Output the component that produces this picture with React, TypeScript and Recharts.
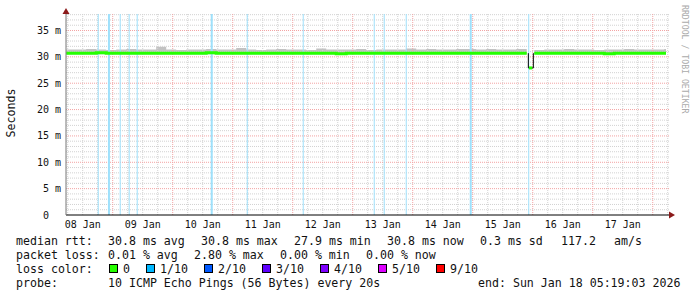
import { ComposedChart, Line, Area, XAxis, YAxis, ReferenceLine } from 'recharts'

// hours since 08 Jan 00:00, end = 18 Jan 05:19
const hours = [
  5.4, 9.4, 13.4, 17.4, 21.4, 25.4, 29.4, 33.4, 37.4, 41.4,
  45.4, 49.4, 53.4, 57.4, 61.4, 65.4, 69.4, 73.4, 77.4, 81.4,
  85.4, 89.4, 93.4, 97.4, 101.4, 105.4, 109.4, 113.4, 117.4, 121.4,
  125.4, 129.4, 133.4, 137.4, 141.4, 145.4, 149.4, 153.4, 157.4, 161.4,
  165.4, 169.4, 173.4, 177.4, 181.4, 185.4, 189.6, 190.0, 192.6, 196.6,
  200.6, 204.6, 208.6, 212.6, 216.6, 220.6, 224.6, 228.6, 232.6, 236.6,
  240.6, 244.6, 245.3,
]
const medianMs = [
  30.7, 30.7, 30.7, 30.8, 30.7, 30.7, 30.7, 30.7, 30.7, 30.7,
  30.7, 30.7, 30.7, 30.7, 30.8, 30.7, 30.7, 30.7, 30.7, 30.7,
  30.7, 30.7, 30.7, 30.7, 30.7, 30.7, 30.7, 30.6, 30.7, 30.7,
  30.7, 30.7, 30.7, 30.7, 30.7, 30.7, 30.7, 30.7, 30.7, 30.7,
  30.7, 30.7, 30.7, 30.7, 30.7, 30.7, 30.7, null, 30.7, 30.7,
  30.7, 30.7, 30.7, 30.7, 30.7, 30.6, 30.7, 30.7, 30.7, 30.7,
  30.7, 30.7, 30.7,
]
const smokeTopMs = [
  31.4, 31.4, 31.5, 31.4, 31.3, 31.4, 31.5, 31.4, 31.4, 31.9,
  31.4, 31.3, 31.4, 31.4, 31.5, 31.4, 31.4, 31.7, 31.4, 31.3,
  31.4, 31.5, 31.4, 31.4, 31.3, 31.6, 31.4, 31.4, 31.4, 31.5,
  31.3, 31.4, 31.4, 31.4, 31.6, 31.4, 31.5, 31.4, 31.4, 31.5,
  31.5, 31.4, 31.5, 31.4, 31.4, 31.5, 31.4, null, 31.3, 31.4,
  31.4, 31.5, 31.4, 31.4, 31.3, 31.4, 31.4, 31.5, 31.4, 31.4,
  31.4, 31.5, 31.5,
]
const smokeLowMs = 30.5

// the short drop on 15 Jan
const dipHours = [190.24, 190.24, 192.24, 192.24]
const dipMs = [30.7, 27.9, 27.9, 30.7]
const dipLowHours = [190.5, 191.8]
const dipLowMs = [27.9, 27.9]

// packet loss 1/10 events
const lossHours = [18.2, 22.5, 27.0, 30.6, 33.8, 63.6, 77.8, 100.2, 128.6, 132.6, 141.4, 167.2, 190.4]
const lossWidths = [1, 2, 1, 1, 1, 2, 1, 1, 1, 1, 1, 2, 1]

const dayLabels = ['08 Jan', '09 Jan', '10 Jan', '11 Jan', '12 Jan', '13 Jan', '14 Jan', '15 Jan', '16 Jan', '17 Jan']
const labelHours = [12, 36, 60, 84, 108, 132, 156, 180, 204, 228]
const majorHours = [24, 48, 72, 96, 120, 144, 168, 192, 216, 240]
const minorHours = [6, 12, 18, 30, 36, 42, 54, 60, 66, 78, 84, 90, 102, 108, 114, 126, 132, 138, 150, 156, 162, 174, 180, 186, 198, 204, 210, 222, 228, 234, 246]
const yTicks = [0, 5, 10, 15, 20, 25, 30, 35]
const majorMs = [5, 10, 15, 20, 25, 30, 35]
const minorMs = [1, 2, 3, 4, 6, 7, 8, 9, 11, 12, 13, 14, 16, 17, 18, 19, 21, 22, 23, 24, 26, 27, 28, 29, 31, 32, 33, 34, 36, 37, 38]

const rttStats = [['median rtt:', 16], ['30.8 ms avg', 108], ['30.8 ms max', 201], ['27.9 ms min', 294], ['30.8 ms now', 387], ['0.3 ms sd', 480], ['117.2', 561], ['am/s', 614]] as const
const lossStats = [['packet loss:', 16], ['0.01 % avg', 108], ['2.80 % max', 194], ['0.00 % min', 280], ['0.00 % now', 366]] as const
const lossLabels = ['0', '1/10', '2/10', '3/10', '4/10', '5/10', '9/10']
const lossColors = ['#26ff00', '#00b8ff', '#0059ff', '#5e00ff', '#7e00ff', '#dd00ff', '#ff0000']
const lossBoxX = [109, 146, 204, 262, 320, 378, 436]

const data = hours.map((t, i) => ({
  t,
  median: medianMs[i],
  smoke: smokeTopMs[i] == null ? null : [smokeLowMs, smokeTopMs[i]],
}))
const dipRows = dipHours.map((t, i) => ({ t, v: dipMs[i] }))
const dipLowRows = dipLowHours.map((t, i) => ({ t, v: dipLowMs[i] }))

const MONO = '"DejaVu Sans Mono", monospace'
const GREEN = '#26ff00'

function YTick({ x, y, payload }: any) {
  const v = payload.value
  return (
    <text x={v === 0 ? x - 17 : x - 5} y={y} dy={3.5} textAnchor="end" fontFamily={MONO} fontSize={10} fill="#111">
      {v === 0 ? '0' : `${v} m`}
    </text>
  )
}

export default function App() {
  return (
    <div style={{ position: 'absolute', left: 0, top: 0, width: 697, height: 297, background: '#fff' }}>
      <ComposedChart width={697} height={297} data={data} margin={{ top: 14, left: 6, right: 28, bottom: 62 }}>
        <XAxis
          type="number"
          dataKey="t"
          domain={[5.317, 246.5]}
          allowDataOverflow
          ticks={labelHours}
          interval={0}
          tickFormatter={(v: number) => dayLabels[labelHours.indexOf(v)]}
          tickLine={false}
          tickSize={2}
          tickMargin={4}
          height={20}
          axisLine={{ stroke: '#000' }}
          tick={{ fontFamily: MONO, fontSize: 10, fill: '#111' }}
        />
        <YAxis
          type="number"
          domain={[0, 38.13]}
          allowDataOverflow
          ticks={yTicks}
          interval={0}
          width={60}
          tickLine={false}
          tickSize={0}
          tickMargin={0}
          axisLine={{ stroke: '#777' }}
          tick={<YTick />}
        />
        {minorMs.map(v => (
          <ReferenceLine key={'hm' + v} y={v} stroke="#d2d2d2" strokeDasharray="1 1" />
        ))}
        {minorHours.map(v => (
          <ReferenceLine key={'vm' + v} x={v} stroke="#d2d2d2" strokeDasharray="1 1" />
        ))}
        {majorMs.map(v => (
          <ReferenceLine key={'hM' + v} y={v} stroke="#f3a3a3" strokeDasharray="1 1" />
        ))}
        {majorHours.map(v => (
          <ReferenceLine key={'vM' + v} x={v} stroke="#f3a3a3" strokeDasharray="1 1" />
        ))}
        {lossHours.map((v, i) => (
          <ReferenceLine key={'loss' + v} x={v} stroke="#9ee0fb" strokeWidth={lossWidths[i]} />
        ))}
        <Area type="stepAfter" dataKey="smoke" fill="#c2c2c2" fillOpacity={1} stroke="none" isAnimationActive={false} />
        <Line data={dipRows} type="linear" dataKey="v" stroke="#000" strokeWidth={1} dot={false} isAnimationActive={false} />
        <Line type="stepAfter" dataKey="median" stroke={GREEN} strokeWidth={3} dot={false} isAnimationActive={false} />
        <Line data={dipLowRows} type="linear" dataKey="v" stroke={GREEN} strokeWidth={3} dot={false} isAnimationActive={false} />
      </ComposedChart>
      <svg width={697} height={297} style={{ position: 'absolute', left: 0, top: 0, pointerEvents: 'none' }}>
        <polygon points="62.5,14 69.5,14 66,8" fill="#8b1a1a" />
        <polygon points="669,211.5 669,218.5 675,215" fill="#8b1a1a" />
        <text x={15} y={113} transform="rotate(-90 15 113)" textAnchor="middle" fontFamily={MONO} fontSize={11.6} fill="#111">
          Seconds
        </text>
        <text x={682} y={5} transform="rotate(90 682 5)" fontFamily={MONO} fontSize={8.2} fill="#aaa">
          RRDTOOL / TOBI OETIKER
        </text>
        <g fontFamily={MONO} fontSize={11.6} fill="#111" style={{ whiteSpace: 'pre' }}>
          {rttStats.map(([s, x]) => (
            <text key={s + x} x={x} y={245}>{s}</text>
          ))}
          {lossStats.map(([s, x]) => (
            <text key={s + x} x={x} y={259}>{s}</text>
          ))}
          <text x={16} y={273}>loss color:</text>
          {lossLabels.map((s, i) => (
            <g key={s}>
              <rect x={lossBoxX[i] + 0.5} y={264.5} width={8} height={8} fill={lossColors[i]} stroke="#000" />
              <text x={lossBoxX[i] + 14} y={273}>{s}</text>
            </g>
          ))}
          <text x={16} y={287}>probe:</text>
          <text x={108} y={287}>10 ICMP Echo Pings (56 Bytes) every 20s</text>
          <text x={478} y={287}>end: Sun Jan 18 05:19:03 2026</text>
        </g>
      </svg>
    </div>
  )
}
